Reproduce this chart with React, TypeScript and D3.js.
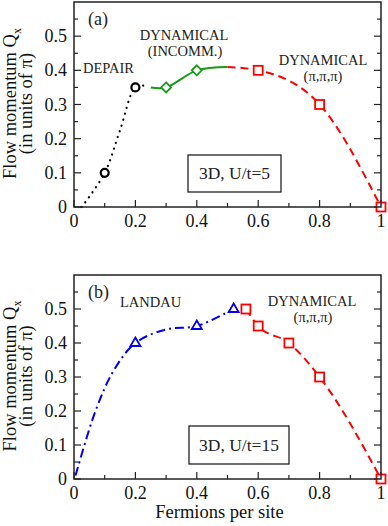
import React from "react";
import * as d3 from "d3";

type Pt = [number, number];

const xTickValues = [0, 0.2, 0.4, 0.6, 0.8, 1];
const xTickLabels = ["0", "0.2", "0.4", "0.6", "0.8", "1"];
const yTickValues = [0, 0.1, 0.2, 0.3, 0.4, 0.5];
const yTickLabels = ["0", "0.1", "0.2", "0.3", "0.4", "0.5"];

// panel (a) U/t=5
const depairCurve: Pt[] = [[0.025, 0], [0.1, 0.1], [0.15, 0.225], [0.2, 0.35], [0.23, 0.355]];
const depairPoints: Pt[] = [[0.1, 0.1], [0.2, 0.35]];
const incommCurve: Pt[] = [[0.25, 0.35], [0.3, 0.35], [0.4, 0.4], [0.5, 0.41]];
const incommPoints: Pt[] = [[0.3, 0.35], [0.4, 0.4]];
const piCurveA: Pt[] = [[0.5, 0.41], [0.6, 0.4], [0.8, 0.3], [1, 0]];
const piPointsA: Pt[] = [[0.6, 0.4], [0.8, 0.3], [1, 0]];

// panel (b) U/t=15
const landauCurve: Pt[] = [[0.005, 0.01], [0.07, 0.2], [0.13, 0.32], [0.2, 0.4], [0.3, 0.44], [0.4, 0.45], [0.52, 0.5]];
const landauPoints: Pt[] = [[0.2, 0.4], [0.4, 0.45], [0.52, 0.5]];
const piCurveB: Pt[] = [[0.56, 0.5], [0.6, 0.45], [0.7, 0.4], [0.8, 0.3], [1, 0]];
const piPointsB: Pt[] = [[0.56, 0.5], [0.6, 0.45], [0.7, 0.4], [0.8, 0.3], [1, 0]];

const FONT = "'Liberation Serif', 'Times New Roman', serif";
const RED = "#ff0000";
const GREEN = "#179a17";
const BLUE = "#0000ee";

const left = 74;
const right = 381;

function Panel({ top, bottom, children }: { top: number; bottom: number; children: (x: any, y: any) => React.ReactNode }) {
  const x = d3.scaleLinear().domain([0, 1]).range([left, right]);
  const y = d3.scaleLinear().domain([0, 0.6]).range([bottom, top]);
  const yMinor = d3.range(0, 0.6, 0.05);
  const xMinor = d3.range(0, 1.001, 0.1);
  return (
    <g>
      {yMinor.map((v, i) => {
        const len = i % 2 === 0 ? 7 : 4;
        return (
          <g key={"yt" + i} stroke="#222" strokeWidth={1.2}>
            <line x1={left} x2={left + len} y1={y(v)} y2={y(v)} />
            <line x1={right} x2={right - len} y1={y(v)} y2={y(v)} />
          </g>
        );
      })}
      {xMinor.map((v, i) => {
        const len = i % 2 === 0 ? 7 : 4;
        return <line key={"xt" + i} x1={x(v)} x2={x(v)} y1={bottom} y2={bottom - len} stroke="#222" strokeWidth={1.2} />;
      })}
      {yTickValues.map((v, i) => (
        <text key={"yl" + i} x={left - 7} y={y(v) + 6} textAnchor="end" fontSize={18} fontFamily={FONT} fill="#111">
          {yTickLabels[i]}
        </text>
      ))}
      {xTickValues.map((v, i) => (
        <text key={"xl" + i} x={x(v)} y={bottom + 20} textAnchor="middle" fontSize={18} fontFamily={FONT} fill="#111">
          {xTickLabels[i]}
        </text>
      ))}
      <text transform={`translate(${16},${(top + bottom) / 2 - 1}) rotate(-90)`} textAnchor="middle" fontSize={18.5} fontFamily={FONT} fill="#111">
        Flow momentum Q<tspan fontSize={12} dy={5}>x</tspan>
      </text>
      <text transform={`translate(${32},${(top + bottom) / 2 - 1}) rotate(-90)`} textAnchor="middle" fontSize={18.5} fontFamily={FONT} fill="#111">
        (in units of π)
      </text>
      {children(x, y)}
      <rect x={left} y={top} width={right - left} height={bottom - top} fill="none" stroke="#222" strokeWidth={1.5} />
    </g>
  );
}

function curvePath(x: any, y: any, pts: Pt[], curve: any = d3.curveCatmullRom.alpha(0.5)) {
  return d3.line<Pt>().x((d) => x(d[0])).y((d) => y(d[1])).curve(curve)(pts) || "";
}

export default function App() {
  const label = { fontFamily: FONT, fill: "#222" };
  const small = 14.5;
  return (
    <svg width={388} height={526} style={{ position: "absolute", left: 0, top: 0, background: "#fff" }}>
      <Panel top={2} bottom={207}>
        {(x, y) => (
          <g>
            <path d={curvePath(x, y, depairCurve)} fill="none" stroke="#000" strokeWidth={2.2} strokeDasharray="0.1 6" strokeLinecap="round" />
            <path d={curvePath(x, y, incommCurve)} fill="none" stroke={GREEN} strokeWidth={2} />
            <path d={curvePath(x, y, piCurveA, d3.curveMonotoneX)} fill="none" stroke={RED} strokeWidth={2} strokeDasharray="8 5" />
            {depairPoints.map((d, i) => (
              <circle key={"c" + i} cx={x(d[0])} cy={y(d[1])} r={4} fill="#fff" stroke="#000" strokeWidth={2.2} />
            ))}
            {incommPoints.map((d, i) => (
              <path key={"d" + i} d={`M${x(d[0])},${y(d[1]) - 5}l5,5l-5,5l-5,-5z`} fill="#fff" stroke={GREEN} strokeWidth={1.8} />
            ))}
            {piPointsA.map((d, i) => (
              <rect key={"s" + i} x={x(d[0]) - 4.5} y={y(d[1]) - 4.5} width={9} height={9} fill="#fff" stroke={RED} strokeWidth={1.8} />
            ))}
            <text x={88} y={25} fontSize={18} {...label}>(a)</text>
            <text x={83} y={73} fontSize={small} {...label}>DEPAIR</text>
            <text x={184} y={40} fontSize={small} textAnchor="middle" {...label}>DYNAMICAL</text>
            <text x={185} y={56} fontSize={small} textAnchor="middle" {...label}>(INCOMM.)</text>
            <text x={323} y={65} fontSize={small} textAnchor="middle" {...label}>DYNAMICAL</text>
            <text x={323} y={81} fontSize={small} textAnchor="middle" {...label}>(π,π,π)</text>
            <rect x={188} y={155} width={93} height={37} fill="#fff" stroke="#222" strokeWidth={1.3} />
            <text x={234.5} y={179} fontSize={17.5} textAnchor="middle" {...label}>3D, U/t=5</text>
          </g>
        )}
      </Panel>
      <Panel top={275} bottom={479}>
        {(x, y) => (
          <g>
            <path d={curvePath(x, y, landauCurve)} fill="none" stroke={BLUE} strokeWidth={2} strokeDasharray="9 4 2 4" />
            <path d={curvePath(x, y, piCurveB, d3.curveMonotoneX)} fill="none" stroke={RED} strokeWidth={2} strokeDasharray="8 5" />
            {landauPoints.map((d, i) => (
              <path key={"t" + i} d={`M${x(d[0])},${y(d[1]) - 5.5}l5,8.5h-10z`} fill="#fff" stroke={BLUE} strokeWidth={1.8} />
            ))}
            {piPointsB.map((d, i) => (
              <rect key={"s" + i} x={x(d[0]) - 4.5} y={y(d[1]) - 4.5} width={9} height={9} fill="#fff" stroke={RED} strokeWidth={1.8} />
            ))}
            <text x={88} y={298} fontSize={18} {...label}>(b)</text>
            <text x={120} y={307} fontSize={small} {...label}>LANDAU</text>
            <text x={312} y={306} fontSize={small} textAnchor="middle" {...label}>DYNAMICAL</text>
            <text x={313} y={322} fontSize={small} textAnchor="middle" {...label}>(π,π,π)</text>
            <rect x={189} y={426} width={100} height={38} fill="#fff" stroke="#222" strokeWidth={1.3} />
            <text x={239} y={451} fontSize={17.5} textAnchor="middle" {...label}>3D, U/t=15</text>
          </g>
        )}
      </Panel>
      <text x={219.5} y={518} fontSize={18.5} textAnchor="middle" fontFamily={FONT} fill="#111">Fermions per site</text>
    </svg>
  );
}
